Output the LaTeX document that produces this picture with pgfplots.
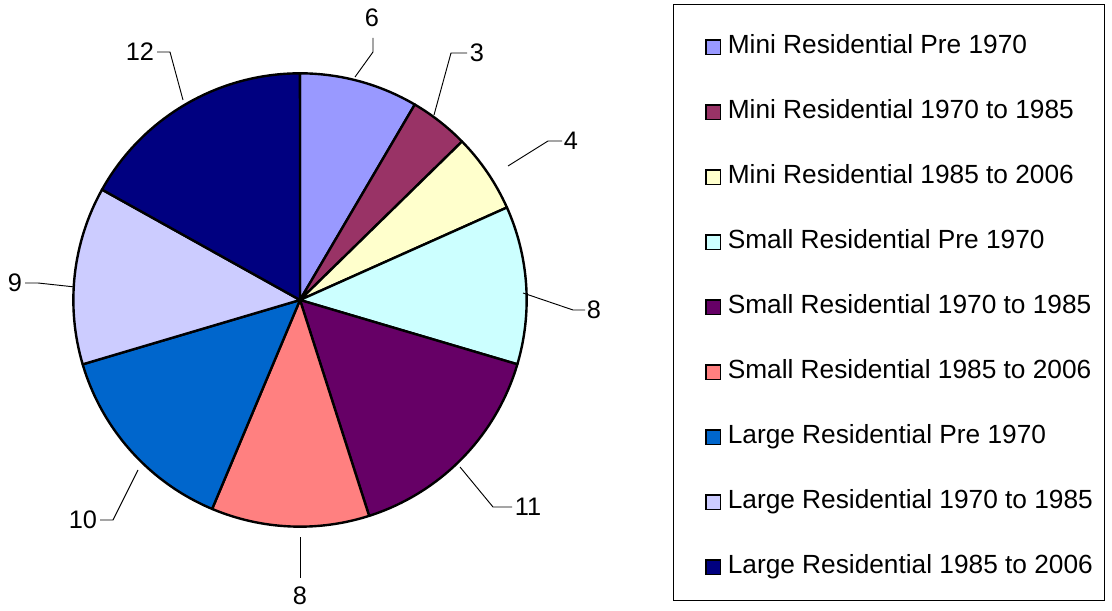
\documentclass[border=0pt]{standalone}
\usepackage{pgfplots}
\usepackage{pgfplotstable}
\pgfplotsset{compat=1.18}
\usepackage{fontspec}
\setmainfont{Liberation Sans}
\definecolor{c1}{HTML}{9999FF}
\definecolor{c2}{HTML}{993366}
\definecolor{c3}{HTML}{FFFFCC}
\definecolor{c4}{HTML}{CCFFFF}
\definecolor{c5}{HTML}{660066}
\definecolor{c6}{HTML}{FF8080}
\definecolor{c7}{HTML}{0066CC}
\definecolor{c8}{HTML}{CCCCFF}
\definecolor{c9}{HTML}{000080}
\pgfplotstableread{
val col
6 c1
3 c2
4 c3
8 c4
11 c5
8 c6
10 c7
9 c8
12 c9
}\piedata
\begin{document}
\begin{tikzpicture}
\begin{axis}[
  x=0.75pt, y=0.75pt,
  xmin=0, xmax=1112, ymin=0, ymax=610,
  hide axis, clip=false,
  font=\fontsize{19}{23}\selectfont,
  legend style={at={(0.63399,0.9438)}, anchor=north west, draw=none, fill=none,
    inner sep=0pt, row sep=29.75pt, column sep=5pt,
    nodes={inner sep=0pt, text height=14pt, text depth=5pt, anchor=west},
    font=\fontsize{19.7}{23}\selectfont},
  legend cell align=left,
  legend image code/.code={\draw[#1] (0pt,-5.4pt) rectangle (10.8pt,5.4pt);},
]
\addlegendimage{fill=c1, draw=black, line width=1.1pt}\addlegendentry{Mini Residential Pre 1970}
\addlegendimage{fill=c2, draw=black, line width=1.1pt}\addlegendentry{Mini Residential 1970 to 1985}
\addlegendimage{fill=c3, draw=black, line width=1.1pt}\addlegendentry{Mini Residential 1985 to 2006}
\addlegendimage{fill=c4, draw=black, line width=1.1pt}\addlegendentry{Small Residential Pre 1970}
\addlegendimage{fill=c5, draw=black, line width=1.1pt}\addlegendentry{Small Residential 1970 to 1985}
\addlegendimage{fill=c6, draw=black, line width=1.1pt}\addlegendentry{Small Residential 1985 to 2006}
\addlegendimage{fill=c7, draw=black, line width=1.1pt}\addlegendentry{Large Residential Pre 1970}
\addlegendimage{fill=c8, draw=black, line width=1.1pt}\addlegendentry{Large Residential 1970 to 1985}
\addlegendimage{fill=c9, draw=black, line width=1.1pt}\addlegendentry{Large Residential 1985 to 2006}
% fixed canvas
\path (axis cs:0,0) rectangle (axis cs:1112,610);
% pie slices
\pgfplotstablegetrowsof{\piedata}
\pgfmathtruncatemacro\nrows{\pgfplotsretval-1}
\def\total{0}
\pgfplotsforeachungrouped \i in {0,...,\nrows}{%
  \pgfplotstablegetelem{\i}{val}\of\piedata
  \pgfmathsetmacro\total{\total+\pgfplotsretval}%
}
\def\astart{90}
\pgfplotsforeachungrouped \i in {0,...,\nrows}{%
  \pgfplotstablegetelem{\i}{val}\of\piedata \let\v=\pgfplotsretval
  \pgfplotstablegetelem{\i}{col}\of\piedata \let\c=\pgfplotsretval
  \pgfmathsetmacro\aend{\astart-\v/\total*360}%
  \edef\cmd{\noexpand\filldraw[fill=\c, draw=black, line width=1.8pt, line join=round] (axis cs:300,310) -- ++(\astart:170pt) arc[start angle=\astart, end angle=\aend, radius=170pt] -- cycle;}%
  \cmd
  \global\let\astart\aend
}
% leader lines
\begin{scope}[line width=0.7pt]
\draw (axis cs:355,533) -- (axis cs:373,558) -- (axis cs:373,572);
\draw (axis cs:434,495) -- (axis cs:451,557) -- (axis cs:467,557);
\draw (axis cs:508,444) -- (axis cs:548,469) -- (axis cs:562,469);
\draw (axis cs:523,317) -- (axis cs:573,300) -- (axis cs:585,300);
\draw (axis cs:460,143) -- (axis cs:493,103) -- (axis cs:512,103);
\draw (axis cs:300,73) -- (axis cs:300,32);
\draw (axis cs:138,140) -- (axis cs:113,90) -- (axis cs:100,90);
\draw (axis cs:75,323) -- (axis cs:38,327) -- (axis cs:25,327);
\draw (axis cs:183,510) -- (axis cs:170,558) -- (axis cs:157,558);
\end{scope}
% data labels
\begin{scope}[every node/.style={inner sep=2pt}]
\node at (axis cs:372,592) {6};
\node[anchor=west] at (axis cs:467,557) {3};
\node[anchor=west] at (axis cs:561,469) {4};
\node[anchor=west] at (axis cs:584,300) {8};
\node[anchor=west] at (axis cs:512,103) {11};
\node at (axis cs:300,14) {8};
\node[anchor=east] at (axis cs:100,90) {10};
\node[anchor=east] at (axis cs:25,327) {9};
\node[anchor=east] at (axis cs:157,558) {12};
\end{scope}
% legend frame
\draw[line width=0.6pt] (axis cs:673,10) rectangle (axis cs:1104,606);
\end{axis}
\end{tikzpicture}
\end{document}
